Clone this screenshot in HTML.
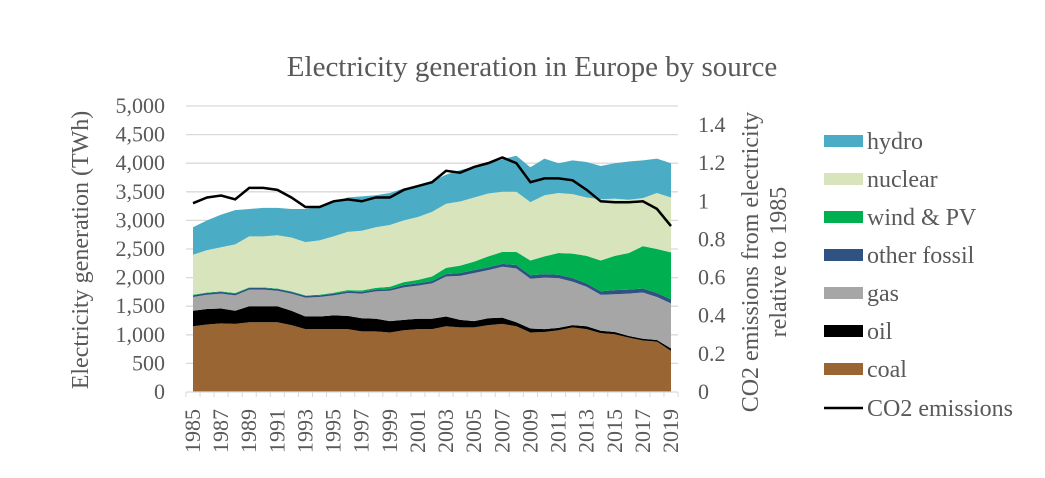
<!DOCTYPE html>
<html><head><meta charset="utf-8"><style>
body{margin:0;background:#fff;}
svg text{font-family:"Liberation Serif",serif;fill:#595959;}
</style></head><body>
<svg id="chart" width="1045" height="473" viewBox="0 0 1045 473" xmlns="http://www.w3.org/2000/svg">
<text x="532" y="76" font-size="29" text-anchor="middle">Electricity generation in Europe by source</text>
<g id="grid"></g><g id="areas"></g><g id="line"></g><g id="axes"></g><g id="legend"></g>
<text transform="translate(88,250) rotate(-90)" font-size="24" text-anchor="middle">Electricity generation (TWh)</text>
<text transform="translate(758,262) rotate(-90)" font-size="24" text-anchor="middle">CO2 emissions from electricity</text>
<text transform="translate(786,262) rotate(-90)" font-size="24" text-anchor="middle">relative to 1985</text>
</svg>
<script>
const years=[];for(let y=1985;y<=2019;y++)years.push(y);
const coal=[1150,1180,1200,1190,1220,1220,1220,1170,1100,1100,1100,1100,1060,1060,1040,1080,1100,1100,1150,1130,1130,1170,1190,1150,1040,1050,1080,1130,1100,1030,1010,950,900,880,720];
const oil=[270,270,260,230,280,280,280,250,220,220,240,230,230,220,200,180,180,180,170,130,110,120,110,70,70,50,40,40,50,40,40,30,30,30,40];
const gas=[240,250,260,270,290,290,270,300,330,340,350,400,430,480,530,570,580,620,700,770,840,840,890,940,870,900,870,760,690,630,660,740,810,750,790];
const otherFossil=[30,30,30,30,30,30,30,30,30,30,30,30,30,30,30,40,40,40,40,50,50,50,50,60,60,60,60,60,60,60,70,70,70,70,70];
const windPV=[10,10,10,10,10,10,10,10,10,10,15,20,25,30,40,50,60,80,110,130,150,190,210,230,260,310,380,430,480,540,600,640,740,770,820];
const nuclear=[700,740,770,850,890,890,930,940,930,950,985,1020,1045,1060,1080,1080,1100,1130,1120,1120,1120,1100,1050,1050,1020,1070,1050,1040,1020,1070,1000,930,840,980,960];
const hydro=[480,520,570,600,480,500,480,500,580,590,600,600,600,560,560,560,540,530,510,550,540,520,570,630,610,640,520,590,620,580,620,670,660,600,600];
const co2=[0.99,1.02,1.03,1.01,1.07,1.07,1.06,1.02,0.97,0.97,1.00,1.01,1.00,1.02,1.02,1.06,1.08,1.10,1.16,1.15,1.18,1.20,1.23,1.20,1.10,1.12,1.12,1.11,1.06,1.00,0.995,0.995,1.00,0.96,0.87];
const leftTicks=[0,500,1000,1500,2000,2500,3000,3500,4000,4500,5000];
const rightTicks=[0,0.2,0.4,0.6,0.8,1,1.2,1.4];
const NS="http://www.w3.org/2000/svg";
const X0=193,X1=671,Y0=392,YT=106;
const x=i=>X0+(X1-X0)*i/(years.length-1);
const y=v=>Y0-(Y0-YT)*v/5000;
const y2=v=>Y0-(Y0-125)*v/1.4;
function mk(tag,attrs,parent){const e=document.createElementNS(NS,tag);for(const k in attrs)e.setAttribute(k,attrs[k]);document.getElementById(parent).appendChild(e);return e;}
const fmt=v=>v.toLocaleString('en-US');
leftTicks.forEach(v=>{
  if(v>0){const g=mk('line',{x1:186,x2:678,y1:y(v),y2:y(v),stroke:'#d9d9d9','stroke-width':1.3},'grid');
  
  }
  const t=mk('text',{x:165,y:y(v)+7,'font-size':22,'text-anchor':'end'},'axes');t.textContent=fmt(v);
  
  
});
rightTicks.forEach(v=>{
  const t=mk('text',{x:698,y:y2(v)+7,'font-size':22},'axes');t.textContent=String(v);
  
  
});
const ax=mk('line',{x1:186,x2:678,y1:Y0,y2:Y0,stroke:'#d9d9d9','stroke-width':1.3},'axes');


const step=(X1-X0)/(years.length-1);
for(let i=0;i<=years.length;i++){const tx=X0-step/2+i*step;const tk=mk('line',{x1:tx,x2:tx,y1:Y0,y2:Y0+5,stroke:'#d9d9d9'},'axes');
  
  }
years.forEach((yr,i)=>{if(i%2)return;
  const t=mk('text',{transform:`translate(${x(i)+7},453) rotate(-90)`,'font-size':22},'axes');t.textContent=yr;
  
  });
const series=[['coal',coal,'#996633'],['oil',oil,'#000000'],['gas',gas,'#a6a6a6'],['other-fossil',otherFossil,'#2f5283'],['wind-pv',windPV,'#00b050'],['nuclear',nuclear,'#d8e4bc'],['hydro',hydro,'#4bacc6']];
let base=years.map(()=>0);
series.forEach(([name,vals,col])=>{
  const top=base.map((b,i)=>b+vals[i]);
  let d='M'+top.map((v,i)=>x(i)+','+y(v)).join(' L');
  for(let i=years.length-1;i>=0;i--)d+=' L'+x(i)+','+y(base[i]);
  const p=mk('path',{d:d+'Z',fill:col},'areas');
  
  
  base=top;
});
const l=mk('polyline',{points:co2.map((v,i)=>x(i)+','+y2(v)).join(' '),fill:'none',stroke:'#000','stroke-width':2.5},'line');


const leg=[['hydro','#4bacc6'],['nuclear','#d8e4bc'],['wind & PV','#00b050'],['other fossil','#2f5283'],['gas','#a6a6a6'],['oil','#000000'],['coal','#996633']];
leg.forEach(([n,c],i)=>{const cy=141+38*i;
  const r=mk('rect',{x:824,y:cy-6,width:39,height:12,fill:c},'legend');
  
  
  const t=mk('text',{x:867,y:cy+8,'font-size':24},'legend');t.textContent=n;
  
  });
const ll=mk('line',{x1:824,x2:863,y1:408,y2:408,stroke:'#000','stroke-width':2.5},'legend');


const lt=mk('text',{x:867,y:416,'font-size':24},'legend');lt.textContent='CO2 emissions';


</script>
</body></html>
